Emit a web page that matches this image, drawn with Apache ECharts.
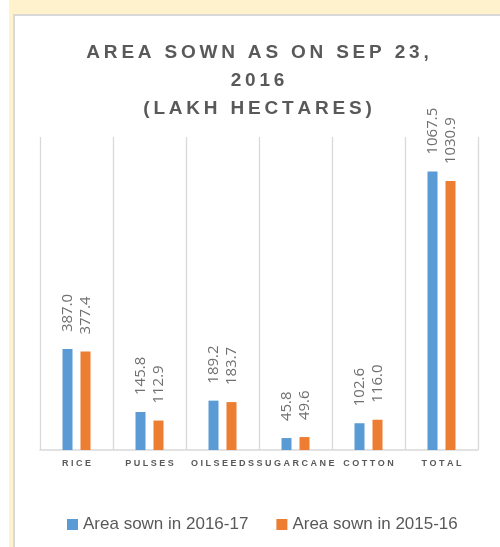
<!DOCTYPE html>
<html>
<head>
    <meta charset="utf-8">
    <title>Area sown</title>
    <script src="https://cdn.jsdelivr.net/npm/echarts@6/dist/echarts.min.js"></script>
    <style>
        body { margin: 0; background: #fff; }
        #frame { position: absolute; left: 9px; top: 0; width: 491px; height: 547px; background: #fff2cc; }
        #main { position: absolute; left: 13px; top: 14px; width: 485px; height: 531px;
                border-left: 2px solid #d9d9d9; border-top: 2px solid #d9d9d9; background: #fff; }
    </style>
</head>
<body>
<div id="frame"></div>
<div id="main"></div>

<script type="text/javascript">
    var categories = ['RICE', 'PULSES', 'OILSEEDS', 'SUGARCANE', 'COTTON', 'TOTAL'];
    var sown1617 = [387.0, 145.8, 189.2, 45.8, 102.6, 1067.5];
    var sown1516 = [377.4, 112.9, 183.7, 49.6, 116.0, 1030.9];
    var seriesNames = ['Area sown in 2016-17', 'Area sown in 2015-16'];
    var titleLines = ['AREA SOWN AS ON SEP 23,', '2016', '(LAKH HECTARES)'];

    // fake letter spacing
    function spaced(s, sep) {
        return s.split('').join(sep);
    }

    var myChart = echarts.init(document.getElementById('main'));

    var barLabel = {
        show: true,
        position: 'top',
        rotate: 90,
        align: 'left',
        verticalAlign: 'middle',
        distance: 17,
        color: '#707070',
        fontSize: 15,
        fontFamily: 'Open Sans',
        formatter: function (p) { return p.value.toFixed(1); }
    };

    var option = {
        title: {
            text: titleLines.map(function (t) { return spaced(t, '\u2009'); }).join('\n'),
            left: 'center',
            top: 18,
            textStyle: {
                color: '#595959',
                fontSize: 19,
                fontWeight: 'bold',
                fontFamily: 'Liberation Sans',
                lineHeight: 28
            }
        },
        legend: {
            data: seriesNames,
            left: 47,
            top: 495,
            itemWidth: 11,
            itemHeight: 11,
            itemGap: 28,
            icon: 'rect',
            textStyle: { color: '#595959', fontSize: 17, fontFamily: 'Liberation Sans' }
        },
        grid: { left: 25, right: 22, top: 121, bottom: 97 },
        xAxis: {
            type: 'category',
            data: categories,
            axisLine: { lineStyle: { color: '#d9d9d9', width: 1.5 } },
            axisTick: { show: false },
            splitLine: { show: true, lineStyle: { color: '#d9d9d9', width: 1.3 } },
            axisLabel: {
                interval: 0,
                hideOverlap: false,
                margin: 9,
                color: '#595959',
                fontSize: 9,
                fontWeight: 'bold',
                fontFamily: 'Liberation Sans',
                formatter: function (v) { return spaced(v, ' '); }
            }
        },
        yAxis: {
            type: 'value',
            min: 0,
            max: 1200,
            show: false,
            splitLine: { show: false }
        },
        series: [{
            name: seriesNames[0],
            type: 'bar',
            data: sown1617,
            barWidth: 10,
            barGap: '80%',
            itemStyle: { color: '#5b9bd5' },
            label: barLabel
        }, {
            name: seriesNames[1],
            type: 'bar',
            data: sown1516,
            barWidth: 10,
            itemStyle: { color: '#ed7d31' },
            label: barLabel
        }]
    };

    myChart.setOption(option);
</script>
</body>
</html>
